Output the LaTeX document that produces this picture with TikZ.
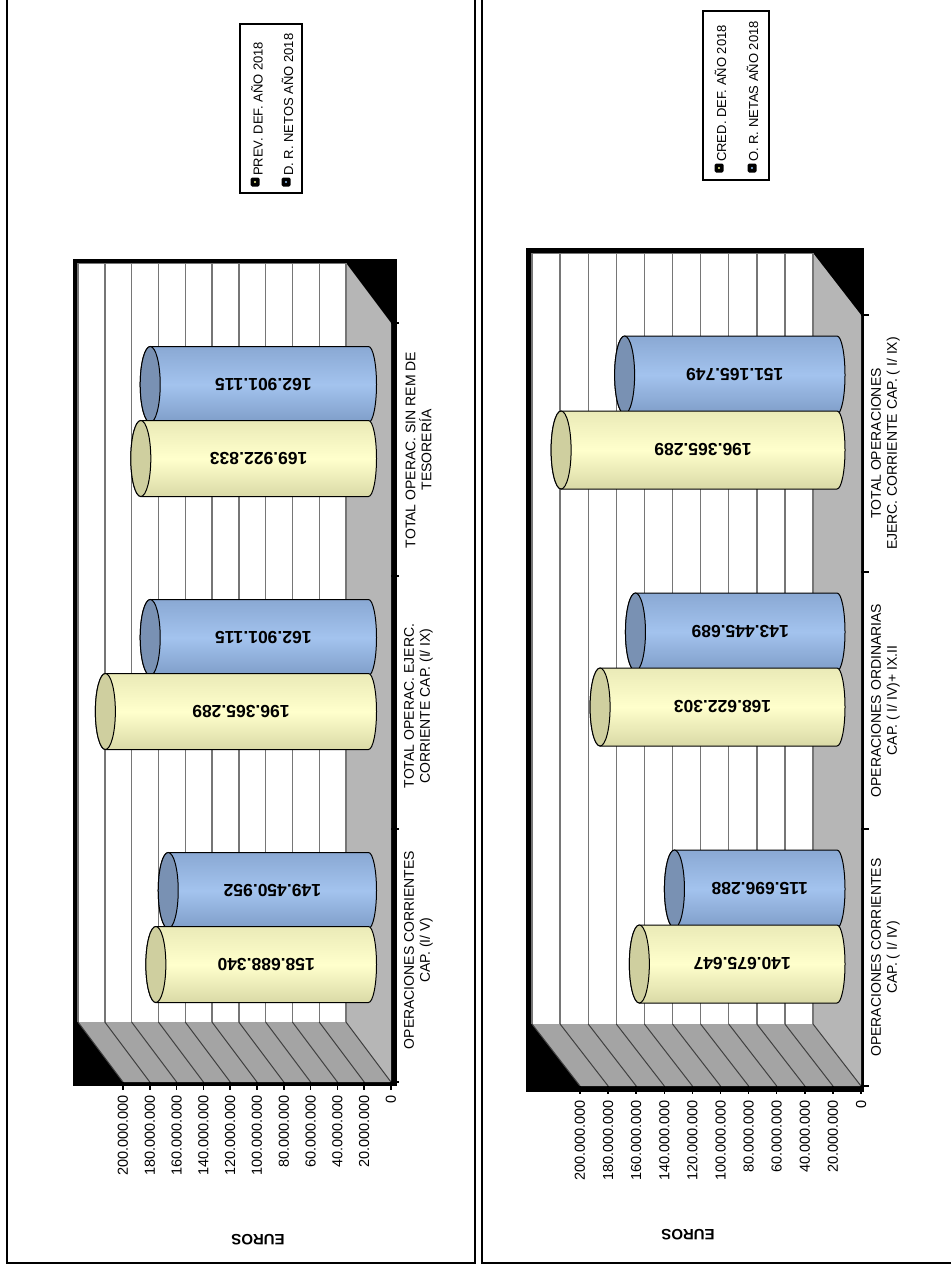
\documentclass[tikz,border=0pt]{standalone}
\usepackage{fontspec}
\setmainfont{Liberation Sans}
\definecolor{ybody}{HTML}{FFFFCC}
\definecolor{yedge}{HTML}{D9D9A6}
\definecolor{ycap}{HTML}{CFCF9F}
\definecolor{bbody}{HTML}{A3C3EE}
\definecolor{bedge}{HTML}{7F9DC8}
\definecolor{bcap}{HTML}{7991B3}
\definecolor{sidewall}{HTML}{B6B6B6}
\definecolor{floorw}{HTML}{A4A4A4}
\definecolor{gridc}{HTML}{767676}
\definecolor{ydot}{HTML}{FFFF99}
\definecolor{bdot}{HTML}{99CCFF}

% one horizontal cylinder: name, zero x, px per million, value (millions), centre y, radius, series, label
\newcommand\cylbar[8]{%
  \pgfmathsetmacro\cxl{#2-#3*#4}%
  \pgfmathsetmacro\cxm{(\cxl+#2)/2+4}%
  \path[cylline, #7shade] (\cxl,#5-#6) -- (#2,#5-#6)
     arc[start angle=-90, end angle=90, x radius=8, y radius=#6]
     -- (\cxl,#5+#6)
     arc[start angle=90, end angle=270, x radius=10, y radius=#6] -- cycle;
  \path[cylline, fill=#7cap] (\cxl,#5) ellipse[x radius=10, y radius=#6];
  \node[vallab] (#1) at (\cxm,#5) {#8};
}
% small legend key
\newcommand\legkey[3]{%
  \fill[black, rounded corners=1.5pt] (#1-4.5,#2-4.5) rectangle (#1+4.5,#2+4.5);
  \fill[#3] (#1,#2) circle (1.2);
}

\begin{document}
\begin{tikzpicture}[x=1pt, y=-1pt,
  cylline/.style={draw=black, line width=1pt},
  yshade/.style={top color=yedge!55!ybody, bottom color=yedge, middle color=ybody},
  bshade/.style={top color=bedge!70!bbody, bottom color=bedge, middle color=bbody},
  vallab/.style={rotate=180, font=\bfseries\fontsize{17.5}{19}\selectfont, inner sep=0pt},
  ticklab/.style={rotate=90, anchor=east, font=\fontsize{14.5}{16}\selectfont, inner sep=0pt},
  catlab/.style={rotate=90, align=center, font=\fontsize{14}{16}\selectfont, inner sep=0pt},
  leglab/.style={rotate=90, anchor=west, font=\fontsize{13}{14}\selectfont, inner sep=0pt},
  axlab/.style={rotate=180, font=\bfseries\fontsize{15}{17}\selectfont, inner sep=0pt},
  legbox/.style={draw=black, line width=1.6pt},
  backgrid/.style={draw=gridc, line width=1.4pt},
  floorgrid/.style={draw=black!75, line width=1pt},
  tickline/.style={draw=black, line width=1.5pt},
  frameline/.style={draw=black, line width=2.6pt}]
\useasboundingbox (0,0) rectangle (950,1271);
\fill[white] (0,0) rectangle (950,1271);

% panel frames
\draw[frameline] (7,-10) -- (7,1263) -- (475,1263) -- (475,-10);
\draw[frameline] (482,-10) -- (482,1263) -- (960,1263);

% ---------------- left chart ----------------
\fill[black] (73,259) rectangle (397,1086);
\fill[white] (78,263) rectangle (346,1022);
\fill[sidewall] (346,263) -- (391,323) -- (391,1082) -- (346,1022) -- cycle;
\fill[floorw] (78,1022) -- (346,1022) -- (391,1082) -- (123,1082) -- cycle;
\draw[gridc, line width=1pt] (78,263.5) -- (346,263.5);
\foreach \i/\t in {0/0,1/20.000.000,2/40.000.000,3/60.000.000,4/80.000.000,5/100.000.000,
                   6/120.000.000,7/140.000.000,8/160.000.000,9/180.000.000,10/200.000.000}{
  \pgfmathsetmacro\gx{346-26.8*\i}
  \draw[backgrid] (\gx,263) -- (\gx,1022);
  \draw[floorgrid] (\gx,1022) -- (\gx+45,1082);
  \draw[tickline] (\gx+45,1082) -- (\gx+45,1090);
  \node[ticklab] (lt\i) at (\gx+45,1095) {\t};
}
\foreach \yy in {323,576,829,1082}{\draw[tickline] (391,\yy) -- (399,\yy);}

\cylbar{lb3}{368.5}{1.34}{162.901115}{384.5}{38}{b}{162.901.115}
\cylbar{ly3}{368.5}{1.34}{169.922833}{458.5}{38}{y}{169.922.833}
\cylbar{lb2}{368.5}{1.34}{162.901115}{637.5}{38}{b}{162.901.115}
\cylbar{ly2}{368.5}{1.34}{196.365289}{711.5}{38}{y}{196.365.289}
\cylbar{lb1}{368.5}{1.34}{149.450952}{890.5}{38}{b}{149.450.952}
\cylbar{ly1}{368.5}{1.34}{158.688340}{964.5}{38}{y}{158.688.340}

\node[catlab] (lc3) at (418.5,450) {TOTAL OPERAC. SIN REM DE\\TESORERÍA};
\node[catlab] (lc2) at (418.5,706) {TOTAL OPERAC. EJERC.\\CORRIENTE CAP. (I/ IX)};
\node[catlab] (lc1) at (418.5,950) {OPERACIONES CORRIENTES\\CAP. (I/ V)};
\node[axlab] (leu) at (258,1240) {EUROS};

% legend
\draw[legbox] (240,24) rectangle (302,193);
\legkey{255}{182}{ydot}
\legkey{286}{182}{bdot}
\node[leglab] (ll1) at (257,176) {PREV. DEF. AÑO 2018};
\node[leglab] (ll2) at (287.5,176) {D. R. NETOS AÑO 2018};

% ---------------- right chart ----------------
\fill[black] (526,248) rectangle (864,1092);
\fill[white] (532,253) rectangle (813,1024);
\fill[sidewall] (813,253) -- (861,315) -- (861,1086) -- (813,1024) -- cycle;
\fill[floorw] (532,1024) -- (813,1024) -- (861,1086) -- (580,1086) -- cycle;
\draw[gridc, line width=1pt] (532,253.5) -- (813,253.5);
\foreach \i/\t in {0/0,1/20.000.000,2/40.000.000,3/60.000.000,4/80.000.000,5/100.000.000,
                   6/120.000.000,7/140.000.000,8/160.000.000,9/180.000.000,10/200.000.000}{
  \pgfmathsetmacro\gx{813-28.1*\i}
  \draw[backgrid] (\gx,253) -- (\gx,1024);
  \draw[floorgrid] (\gx,1024) -- (\gx+48,1086);
  \draw[tickline] (\gx+48,1086) -- (\gx+48,1094);
  \node[ticklab] (rt\i) at (\gx+48,1100) {\t};
}
\foreach \yy in {315,572,829,1086}{\draw[tickline] (861,\yy) -- (869,\yy);}

\cylbar{rb3}{837}{1.405}{151.165749}{375}{39}{b}{151.165.749}
\cylbar{ry3}{837}{1.405}{196.365289}{450}{39}{y}{196.365.289}
\cylbar{rb2}{837}{1.405}{143.445689}{632}{39}{b}{143.445.689}
\cylbar{ry2}{837}{1.405}{168.622303}{707}{39}{y}{168.622.303}
\cylbar{rb1}{837}{1.405}{115.696288}{889}{39}{b}{115.696.288}
\cylbar{ry1}{837}{1.405}{140.675647}{964}{39}{y}{140.675.647}

\node[catlab] (rc3) at (885.5,443.5) {TOTAL OPERACIONES\\EJERC. CORRIENTE CAP. ( I/ IX)};
\node[catlab] (rc2) at (885.5,700.5) {OPERACIONES ORDINARIAS\\CAP. ( I/ IV)+ IX.II};
\node[catlab] (rc1) at (885.5,957.5) {OPERACIONES CORRIENTES\\CAP. ( I/ IV)};
\node[axlab] (reu) at (688,1235) {EUROS};

% legend
\draw[legbox] (703,11) rectangle (769,180);
\legkey{719}{168}{ydot}
\legkey{752}{168}{bdot}
\node[leglab] (rl1) at (720.5,162) {CRED. DEF. AÑO 2018};
\node[leglab] (rl2) at (752.5,162) {O. R. NETAS AÑO 2018};
\end{tikzpicture}
\end{document}
